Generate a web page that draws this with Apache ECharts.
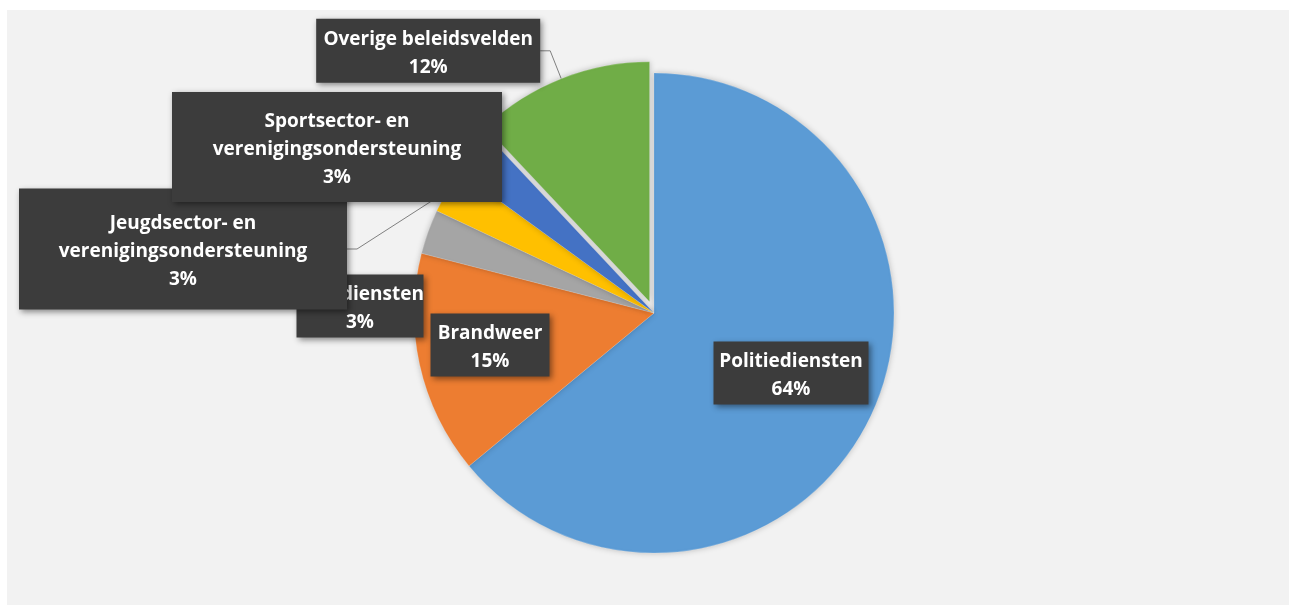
<!DOCTYPE html>
<html>
<head>
<meta charset="utf-8">
<script src="https://cdn.jsdelivr.net/npm/echarts@6/dist/echarts.min.js"></script>
<style>
html,body{margin:0;padding:0;background:#ffffff;}
#c{width:1293px;height:609px;}
</style>
</head>
<body>
<div id="c"></div>
<script>
// ---- data ----
const categories = [
  'Politiediensten',
  'Brandweer',
  'Hulpdiensten',
  'Jeugdsector- en verenigingsondersteuning',
  'Sportsector- en verenigingsondersteuning',
  'Overige beleidsvelden'
];
const shares = [64, 15, 3, 3, 3, 12];
const sliceColors = ['#5B9BD5', '#ED7D31', '#A5A5A5', '#FFC000', '#4472C4', '#70AD47'];

// ---- label boxes (layout only; null = keep the pie's own leader-line placement) ----
const labelCenterX = [791, 490, 360, 183, 337, null];
const labelCenterY = [373, 345, 306, 249, 147, null];
const labelBoxW = [155, 119, 127, 328, 330, 224];
const labelBoxH = [63, 63, 63, 121, 110, 64];
const labelInside = [true, true, false, false, false, false];
const labelLineShown = [false, false, false, true, false, true];
const LINE_H = 28;
const TEXT_SHIFT = 3;
const FONT = '"Open Sans", Lato, sans-serif';
const FONT_SIZE = 19;

const chart = echarts.init(document.getElementById('c'), null, {renderer: 'canvas'});

const pieData = categories.map((name, i) => {
  const nLines = name.indexOf('- en ') >= 0 ? 3 : 2;
  const pv = (labelBoxH[i] - nLines * LINE_H) / 2;
  const item = {
    name: name,
    value: shares[i],
    selected: i === 5,
    itemStyle: {color: sliceColors[i]},
    label: {
      position: labelInside[i] ? 'inside' : 'outside',
      width: labelBoxW[i],
      padding: [pv + TEXT_SHIFT, 0, pv - TEXT_SHIFT, 0],
      rich: {
        t: {
          width: labelBoxW[i],
          align: 'center',
          fontFamily: FONT,
          fontWeight: 'bold',
          fontSize: FONT_SIZE,
          lineHeight: LINE_H,
          color: '#ffffff'
        }
      }
    },
    labelLine: {show: labelLineShown[i]}
  };
  if (i === 5) {
    item.labelLine.length = 30;
    item.labelLine.length2 = 10;
  }
  return item;
});

const option = {
  animation: false,
  backgroundColor: '#ffffff',
  graphic: [{
    type: 'rect',
    silent: true,
    z: -10,
    shape: {x: 7, y: 10, width: 1282, height: 595},
    style: {fill: '#f2f2f2'}
  }],
  series: [{
    type: 'pie',
    center: [654, 313],
    radius: 240,
    startAngle: 90,
    clockwise: true,
    selectedMode: 'single',
    selectedOffset: 12,
    percentPrecision: 0,
    avoidLabelOverlap: false,
    emphasis: {disabled: true},
    itemStyle: {
      shadowBlur: 6,
      shadowColor: 'rgba(0,0,0,0.22)',
      borderColor: 'rgba(255,255,255,0.35)',
      borderWidth: 0.5
    },
    label: {
      show: true,
      formatter: p => p.name.replace('- en ', '- en\n').split('\n')
        .concat([p.percent + '%']).map(s => '{t|' + s + '}').join('\n'),
      fontFamily: FONT,
      fontWeight: 'bold',
      fontSize: FONT_SIZE,
      lineHeight: LINE_H,
      color: '#ffffff',
      backgroundColor: '#3c3c3c',
      distanceToLabelLine: 0,
      shadowBlur: 6,
      shadowColor: 'rgba(0,0,0,0.45)',
      shadowOffsetX: 2,
      shadowOffsetY: 2,
      overflow: 'none'
    },
    labelLine: {
      length: 10,
      length2: 10,
      lineStyle: {color: '#808080', width: 1}
    },
    labelLayout: function (params) {
      const i = params.dataIndex;
      if (labelCenterX[i] == null) return null;
      return {
        x: labelCenterX[i],
        y: labelCenterY[i],
        align: 'center',
        verticalAlign: 'middle'
      };
    },
    data: pieData
  }]
};
chart.setOption(option);
</script>
</body>
</html>
